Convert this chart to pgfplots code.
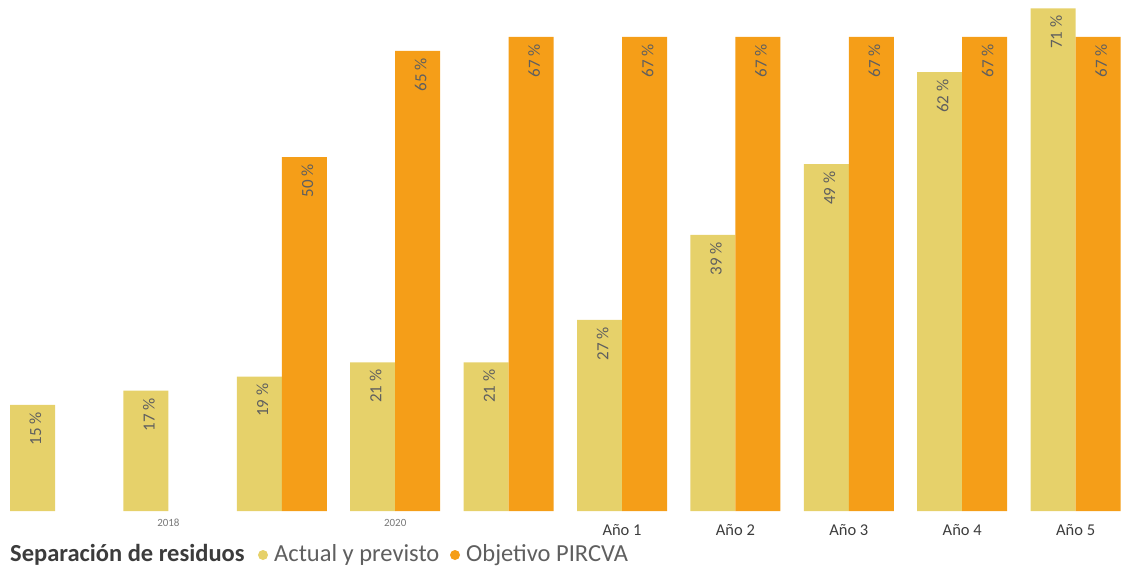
\documentclass[border=0pt]{standalone}
\usepackage{pgfplots}
\pgfplotsset{compat=1.18}
\usepackage{fontspec}
\setmainfont{Carlito}
\definecolor{yc}{RGB}{230,209,106}
\definecolor{oc}{RGB}{245,158,24}
\definecolor{lblgray}{RGB}{95,95,95}
\definecolor{tickgray}{RGB}{120,120,120}
\definecolor{dark}{RGB}{60,60,60}
\newcommand{\yr}[1]{\raisebox{-2pt}[\height]{\fontsize{11}{11}\selectfont\color{tickgray}#1}}
\newcommand{\ano}[1]{\raisebox{-7pt}[\height]{\fontsize{16.5}{16.5}\selectfont\color{dark}Año #1}}
\begin{document}
\begin{tikzpicture}
\path[use as bounding box] (0,0) rectangle (1126pt,574pt);
\begin{axis}[
  at={(0pt,63pt)}, anchor=south west,
  scale only axis, width=1126pt, height=511pt,
  xmin=-0.485, xmax=9.444, ymin=0, ymax=72.2,
  ybar=0pt, bar width=45pt,
  axis line style={draw=none},
  major tick length=0pt,
  ytick=\empty,
  xtick={0,...,9},
  xticklabels={{},\yr{2018},{},\yr{2020},{},\ano{1},\ano{2},\ano{3},\ano{4},\ano{5}},
  xticklabel style={anchor=north, inner sep=0pt, yshift=-6pt},
  /pgf/number format/assume math mode=true,
  nodes near coords={\pgfmathprintnumber[fixed,precision=0]{\pgfplotspointmeta}~\%},
  every node near coord/.append style={xshift=3pt, rotate=90, anchor=east, inner xsep=7pt,
     font=\fontsize{17}{17}\selectfont, text=lblgray},
]
\addplot[fill=yc, draw=none] coordinates {(0,15) (1,17) (2,19) (3,21) (4,21) (5,27) (6,39) (7,49) (8,62) (9,71)};
\addplot[fill=oc, draw=none] coordinates {(2,50) (3,65) (4,67) (5,67) (6,67) (7,67) (8,67) (9,67)};
\end{axis}
\node[anchor=west, inner sep=0pt, font=\fontsize{24.5}{24.5}\selectfont\bfseries, text=dark] at (10pt,19pt) {Separación de residuos};
\fill[yc] (263pt,19pt) circle (5pt);
\node[anchor=west, inner sep=0pt, font=\fontsize{24.5}{24.5}\selectfont, text=lblgray] at (274pt,19pt) {Actual y previsto};
\fill[oc] (455pt,19pt) circle (5pt);
\node[anchor=west, inner sep=0pt, font=\fontsize{24.5}{24.5}\selectfont, text=lblgray] at (466pt,19pt) {Objetivo PIRCVA};
\end{tikzpicture}
\end{document}
